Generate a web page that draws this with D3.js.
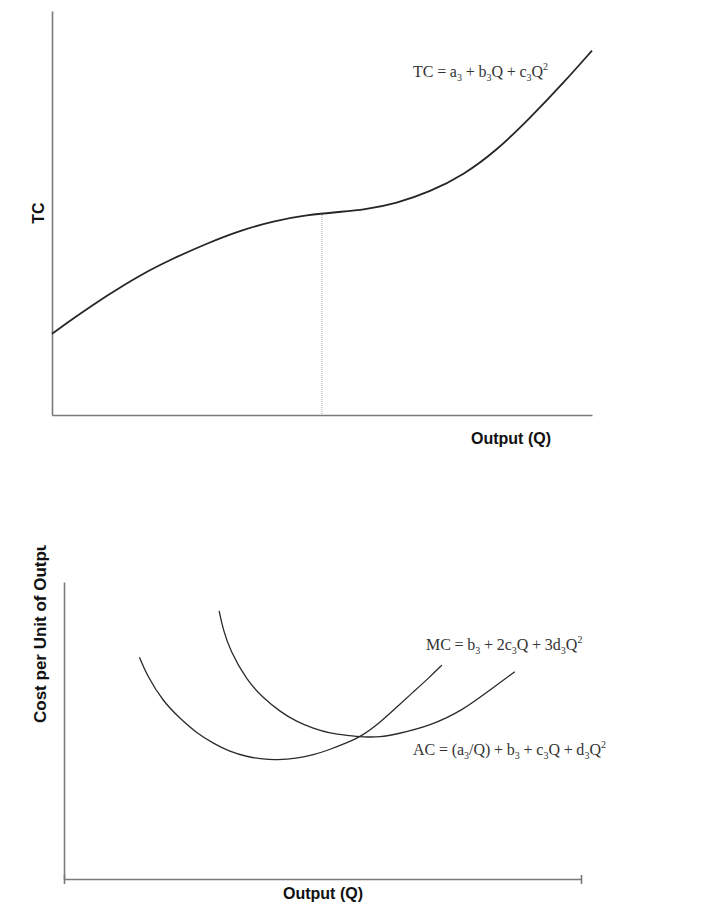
<!DOCTYPE html>
<html>
<head>
<meta charset="utf-8">
<script src="https://cdn.jsdelivr.net/npm/d3@7"></script>
<style>
  body { margin: 0; background: #fff; }
  .axis-title { font-family: "Liberation Sans", Arial, sans-serif; font-weight: bold; font-size: 16px; fill: #111; }
  .formula { font-family: "Liberation Serif", "Times New Roman", serif; font-size: 16px; fill: #333; word-spacing: -0.3px; }
  .axis path, .axis line { stroke: #7a7a7a; stroke-width: 1.6; }
</style>
</head>
<body>
<div id="chart"></div>
<script>
// top panel: total cost curve
const tcQ = [0, 0.4, 1.01, 1.63, 2.25, 2.87, 3.48, 4.1, 4.72, 5.33, 5.77, 6.38, 7.0, 7.62, 8.24, 8.85, 9.47, 10];
const tcValues = [20.3, 24.2, 29.8, 35, 39.2, 42.9, 46.1, 48.5, 50, 50.8, 51.3, 52.9, 55.8, 60, 66.2, 74.2, 83, 91.1];
const inflectionQ = 5.0;
const inflectionTC = 50.5;

// bottom panel: marginal and average cost
const mcQ = [1.46, 1.6, 1.92, 2.24, 2.57, 2.89, 3.21, 3.53, 3.86, 4.11, 4.5, 4.82, 5.15, 5.47, 5.73, 6.11, 6.44, 6.76, 7.08, 7.31];
const mcValues = [73.9, 68, 59.1, 53.6, 48.6, 45.2, 42.4, 40.8, 39.9, 39.7, 40.2, 41.3, 43.2, 45.4, 47.3, 52.1, 57.4, 62.4, 67.4, 71.3];
const acQ = [3.0, 3.08, 3.21, 3.53, 3.86, 4.18, 4.5, 4.82, 5.15, 5.47, 5.79, 6.11, 6.44, 7.08, 7.72, 8.24, 8.72];
const acValues = [89.4, 83, 76.3, 66.3, 60.2, 55.8, 52.4, 50.2, 48.5, 47.9, 47.3, 47.3, 48.3, 51, 56.3, 63, 69.1];

const width = 712;
const height = 917;

const svg = d3.select('#chart')
  .append('svg')
  .attr('width', width)
  .attr('height', height);

// formulas with sub/superscripts: parts are [text, 'n'|'sub'|'sup']
function formula(x, y, parts) {
  const t = svg.append('text').attr('class', 'formula').attr('x', x).attr('y', y);
  const shift = { n: 0, sub: 4, sup: -7 };
  let cur = 0;
  parts.forEach(([s, kind]) => {
    const ts = t.append('tspan').text(s).attr('dy', shift[kind] - cur);
    if (kind !== 'n') ts.attr('font-size', 10);
    cur = shift[kind];
  });
  return t;
}

// ---------- top chart ----------
const x1 = d3.scaleLinear().domain([0, 10]).range([52, 592]);
const y1 = d3.scaleLinear().domain([0, 101]).range([415, 11]);

svg.append('g')
  .attr('class', 'axis')
  .attr('transform', 'translate(0,' + y1(0) + ')')
  .call(d3.axisBottom(x1).ticks(0).tickSizeOuter(0));

svg.append('g')
  .attr('class', 'axis')
  .attr('transform', 'translate(' + x1(0) + ',0)')
  .call(d3.axisLeft(y1).ticks(0).tickSizeOuter(0));

svg.append('line')
  .attr('x1', x1(inflectionQ)).attr('x2', x1(inflectionQ))
  .attr('y1', y1(inflectionTC)).attr('y2', y1(0))
  .attr('stroke', '#aaa')
  .attr('stroke-width', 1)
  .attr('stroke-dasharray', '1,1');

const tcLine = d3.line()
  .x((d, i) => x1(tcQ[i]))
  .y((d) => y1(d))
  .curve(d3.curveBasis);

svg.append('path')
  .datum(tcValues)
  .attr('d', tcLine)
  .attr('fill', 'none')
  .attr('stroke', '#262626')
  .attr('stroke-width', 1.8);

svg.append('text')
  .attr('class', 'axis-title')
  .attr('transform', 'translate(44,213) rotate(-90)')
  .attr('text-anchor', 'middle')
  .text('TC');

svg.append('text')
  .attr('class', 'axis-title')
  .attr('x', 511).attr('y', 444)
  .attr('text-anchor', 'middle')
  .text('Output (Q)');

formula(413, 77, [['TC = a', 'n'], ['3', 'sub'], [' + b', 'n'], ['3', 'sub'], ['Q + c', 'n'], ['3', 'sub'], ['Q', 'n'], ['2', 'sup']]);

// ---------- bottom chart ----------
const x2 = d3.scaleLinear().domain([0, 10]).range([64, 581]);
const y2 = d3.scaleLinear().domain([0, 99]).range([879, 582]);

const xAxis2 = svg.append('g')
  .attr('class', 'axis')
  .attr('transform', 'translate(0,' + y2(0) + ')')
  .call(d3.axisBottom(x2).tickValues([0, 10]).tickFormat('').tickSizeOuter(0));
xAxis2.selectAll('.tick line').attr('y1', -4).attr('y2', 5);

svg.append('g')
  .attr('class', 'axis')
  .attr('transform', 'translate(' + x2(0) + ',0)')
  .call(d3.axisLeft(y2).ticks(0).tickSizeOuter(0));

const mcLine = d3.line()
  .x((d, i) => x2(mcQ[i]))
  .y((d) => y2(d))
  .curve(d3.curveBasis);

const acLine = d3.line()
  .x((d, i) => x2(acQ[i]))
  .y((d) => y2(d))
  .curve(d3.curveBasis);

svg.append('path')
  .datum(mcValues)
  .attr('d', mcLine)
  .attr('fill', 'none')
  .attr('stroke', '#2a2a2a')
  .attr('stroke-width', 1.3);

svg.append('path')
  .datum(acValues)
  .attr('d', acLine)
  .attr('fill', 'none')
  .attr('stroke', '#2a2a2a')
  .attr('stroke-width', 1.3);

// y label is cut off at the top of the original picture
svg.append('clipPath').attr('id', 'ylab-clip')
  .append('rect').attr('x', 0).attr('y', 545).attr('width', 60).attr('height', 300);

svg.append('g')
  .attr('clip-path', 'url(#ylab-clip)')
  .append('text')
  .attr('class', 'axis-title')
  .style('font-size', '17px')
  .attr('transform', 'translate(46,723) rotate(-90)')
  .attr('text-anchor', 'start')
  .text('Cost per Unit of Output');

svg.append('text')
  .attr('class', 'axis-title')
  .attr('x', 323).attr('y', 899)
  .attr('text-anchor', 'middle')
  .text('Output (Q)');

formula(426, 650, [['MC = b', 'n'], ['3', 'sub'], [' + 2c', 'n'], ['3', 'sub'], ['Q  + 3d', 'n'], ['3', 'sub'], ['Q', 'n'], ['2', 'sup']]);
formula(413, 755, [['AC = (a', 'n'], ['3', 'sub'], ['/Q) + b', 'n'], ['3', 'sub'], [' + c', 'n'], ['3', 'sub'], ['Q  +  d', 'n'], ['3', 'sub'], ['Q', 'n'], ['2', 'sup']]);
</script>
</body>
</html>
